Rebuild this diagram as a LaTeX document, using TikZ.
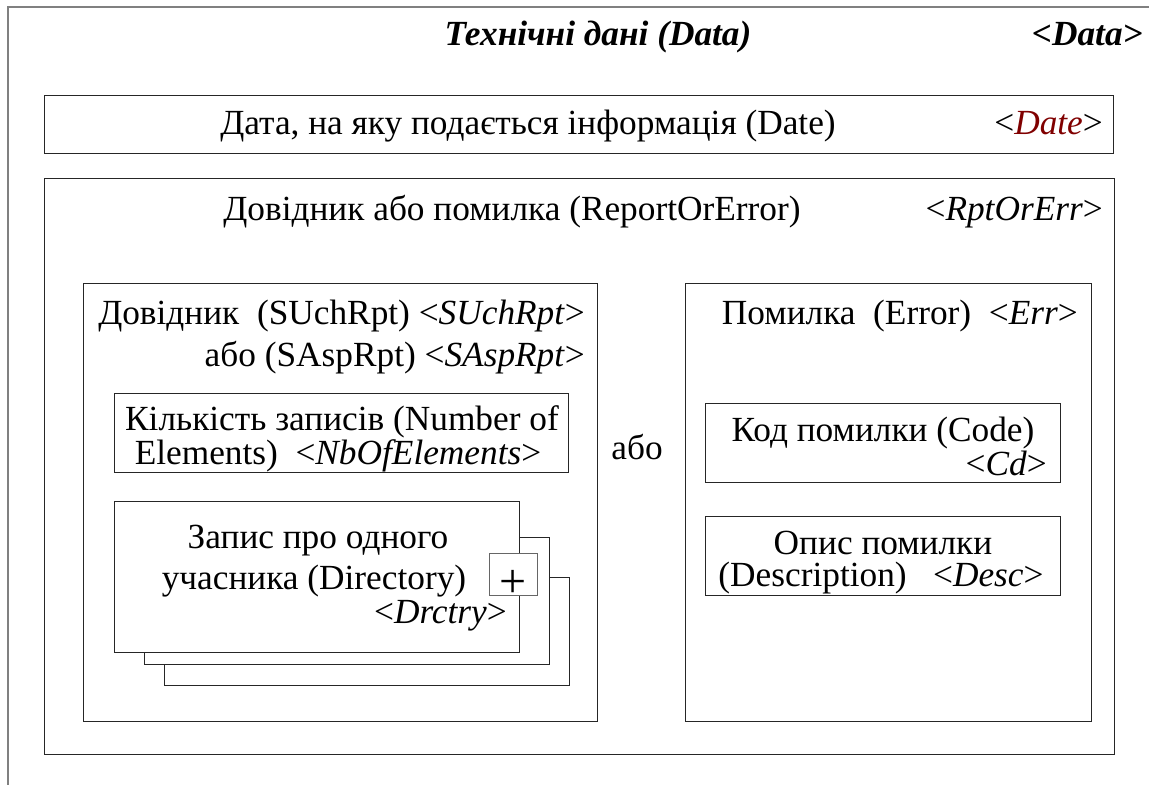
\documentclass[tikz,border=0pt]{standalone}
\usepackage{fontspec}
\setmainfont{Liberation Serif}
\definecolor{tagred}{HTML}{800000}
\tikzset{
  box/.style={draw=black!85, line width=1pt, fill=white, inner sep=0pt},
  txt/.style={inner sep=0pt, font=\fontsize{35.3}{40}\selectfont},
}

\begin{document}
\begin{tikzpicture}[x=1pt, y=-1pt]
	\useasboundingbox (0,0) rectangle (1149,785);
	\coordinate (frametr) at (1149,7);
	\coordinate (frametl) at (8,7);
	\coordinate (framebl) at (8,785);
	\draw [gray, line width=1.5pt] (frametr) -- (frametl) -- (framebl);

	\node [txt, anchor=base] (title) at (598,45) {\textbf{\textit{Технічні дані (Data)}}};
	\node [txt, anchor=base east] (titletag) at (1143,45) {\textbf{\textit{<Data>}}};

	\node [box, minimum width=1069, minimum height=58] (date) at (578.5,124) {};
	\node [txt, anchor=base] (datetxt) at (528,134) {Дата, на яку подається інформація (Date)};
	\node [txt, anchor=base east] (datetag) at (1103,134) {<\textcolor{tagred}{\textit{Date}}>};

	\node [box, minimum width=1070, minimum height=576] (rpt) at (579,466) {};
	\node [txt, anchor=base] (rpttxt) at (512,220) {Довідник або помилка (ReportOrError)};
	\node [txt, anchor=base east] (rpttag) at (1103,220) {<\textit{RptOrErr}>};

	\node [box, minimum width=514, minimum height=438] (sch) at (340,502) {};
	\node [txt, anchor=base east] (schtxt) at (585,324) {Довідник~~(SUchRpt) <\textit{SUchRpt}>};
	\node [txt, anchor=base east] (asptxt) at (585,366) {або (SAspRpt) <\textit{SAspRpt}>};

	\node [box, minimum width=454, minimum height=79] (nb) at (341,432.5) {};
	\node [txt, anchor=base] (nbtxt) at (342,430) {Кількість записів (Number of};
	\node [txt, anchor=base] (nbtag) at (338,464) {Elements)~~<\textit{NbOfElements}>};

	\node [box, minimum width=405, minimum height=108] (dir3) at (366.5,631) {};
	\node [box, minimum width=405, minimum height=127] (dir2) at (346.5,600.5) {};
	\node [box, minimum width=405, minimum height=151] (dir1) at (316.5,576.5) {};
	\node [txt, anchor=base] (dirtxt) at (318,548) {Запис про одного};
	\node [txt, anchor=base] (dirtxt2) at (314,589) {учасника (Directory)};
	\node [txt, anchor=base east] (dirtag) at (507,623) {<\textit{Drctry}>};
	\node [box, draw=black!60, minimum width=48, minimum height=42] (plus) at (513,574) {};
	\node [inner sep=0pt, font=\fontsize{48}{48}\selectfont] (plustxt) at (513,584) {+};

	\node [txt, anchor=base] (or) at (637,459) {або};

	\node [box, minimum width=406, minimum height=438] (err) at (888,502) {};
	\node [txt, anchor=base east] (errtxt) at (1078,324) {Помилка~~(Error)~~<\textit{Err}>};

	\node [box, minimum width=355, minimum height=79] (cd) at (882.5,442.5) {};
	\node [txt, anchor=base] (cdtxt) at (883,441) {Код помилки (Code)};
	\node [txt, anchor=base east] (cdtag) at (1047,475) {<\textit{Cd}>};

	\node [box, minimum width=355, minimum height=79] (desc) at (882.5,555.5) {};
	\node [txt, anchor=base] (desctxt) at (883,554) {Опис помилки};
	\node [txt, anchor=base] (desctag) at (881,586) {(Description)~~~<\textit{Desc}>};
\end{tikzpicture}
\end{document}
